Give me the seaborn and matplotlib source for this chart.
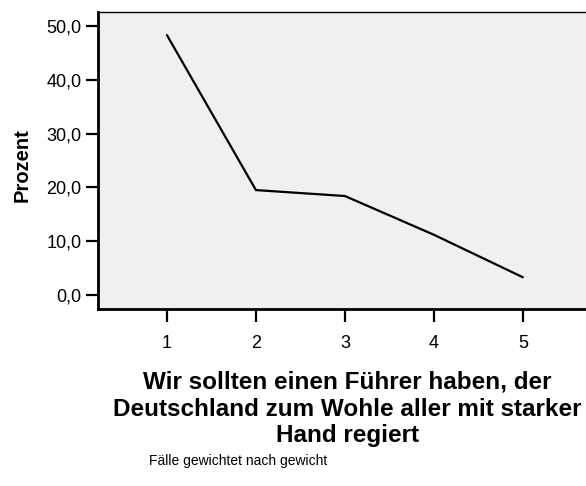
import matplotlib
matplotlib.use("Agg")
import matplotlib.pyplot as plt
import seaborn as sns
import pandas as pd

# values
categories = [1, 2, 3, 4, 5]
prozent = [48.3, 19.5, 18.4, 11.2, 3.3]
y_ticks = [0, 10, 20, 30, 40, 50]
y_tick_labels = ["0,0", "10,0", "20,0", "30,0", "40,0", "50,0"]

x_title = "Wir sollten einen Führer haben, der\nDeutschland zum Wohle aller mit starker\nHand regiert"
footnote = "Fälle gewichtet nach gewicht"

sns.set_style("ticks")
plt.rcParams["font.family"] = ["Liberation Sans", "DejaVu Sans"]
plt.rcParams["text.color"] = "black"
plt.rcParams["xtick.color"] = "black"
plt.rcParams["ytick.color"] = "black"

df = pd.DataFrame({"kategorie": categories, "prozent": prozent})

fig = plt.figure(figsize=(5.86, 4.86), dpi=100)
ax = fig.add_axes([98 / 586, 1 - 309 / 486, 1 - 98 / 586, (309 - 12) / 486])
ax.set_facecolor("#f0f0f0")

sns.lineplot(data=df, x="kategorie", y="prozent", color="black", linewidth=1.6, ax=ax)

ax.set_xlim(0.225, 5.71)
ax.set_ylim(-2.6, 52.6)
ax.set_xticks(categories)
ax.set_xticklabels([str(c) for c in categories], fontsize=13)
ax.set_yticks(y_ticks)
ax.set_yticklabels(y_tick_labels, fontsize=13)
ax.tick_params(axis="both", which="major", direction="out", length=9, width=1.6,
               color="black", bottom=True, left=True)
ax.tick_params(axis="x", pad=10)
ax.tick_params(axis="y", pad=3)

for side in ("left", "bottom"):
    ax.spines[side].set_linewidth(2)
    ax.spines[side].set_color("black")
ax.spines["top"].set_visible(True)
ax.spines["top"].set_linewidth(1)
ax.spines["top"].set_color("black")
ax.spines["right"].set_visible(False)

ax.set_xlabel("")
ax.set_ylabel("")
fig.text(22 / 586, 1 - 165 / 486, "Prozent", rotation=90, ha="center", va="center",
         fontsize=14.5, fontweight="bold")

fig.text(347 / 586, 1 - 409 / 486, x_title, ha="center", va="center",
         fontsize=17.5, fontweight="bold", linespacing=1.2)
fig.text(238 / 586, 1 - 461 / 486, footnote, ha="center", va="center", fontsize=10)

fig.savefig("out.png", dpi=100)
